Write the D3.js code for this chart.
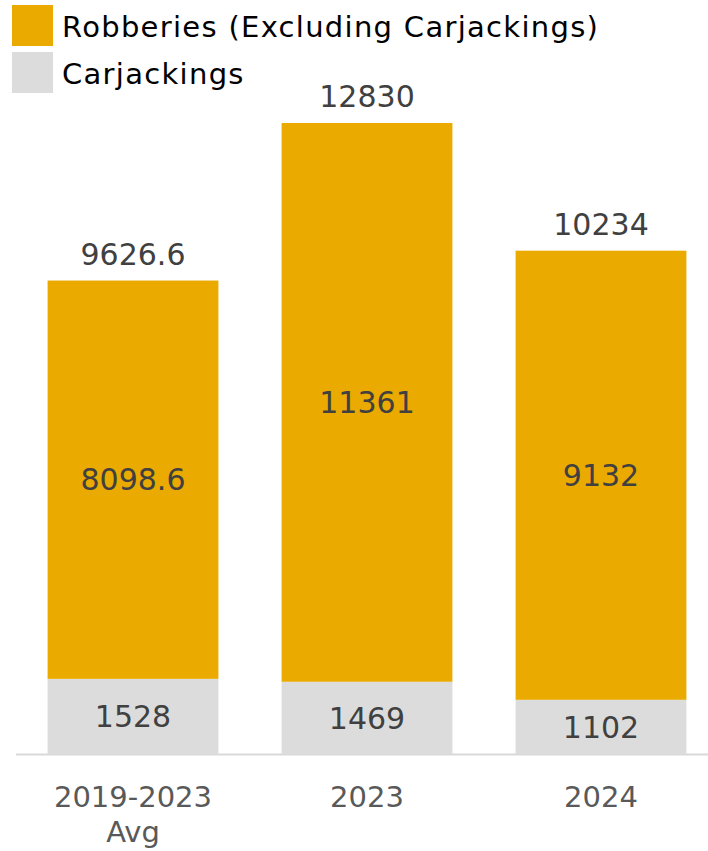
<!DOCTYPE html>
<html>
<head>
<meta charset="utf-8">
<script src="https://cdn.jsdelivr.net/npm/d3@7"></script>
<style>
  body { margin: 0; background: #fff; }
  text { font-family: "DejaVu Sans", sans-serif; }
</style>
</head>
<body>
<div id="chart"></div>
<script>
// chart data
const categories = ["2019-2023 Avg", "2023", "2024"];
const carjackings = [1528, 1469, 1102];
const robberies = [8098.6, 11361, 9132];
const totals = [9626.6, 12830, 10234];
const seriesNames = ["Robberies (Excluding Carjackings)", "Carjackings"];
const seriesColors = ["#eaaa00", "#dcdcdc"];

const width = 708, height = 851;
const baseY = 754;

const svg = d3.select("#chart").append("svg")
    .attr("width", width)
    .attr("height", height);

const x = d3.scaleBand()
    .domain(categories)
    .range([16, 718])
    .paddingInner(0.27)
    .paddingOuter(0.135);

const y = d3.scaleLinear()
    .domain([0, d3.max(totals)])
    .range([baseY, 123]);

// stacked rows: carjackings at the bottom, robberies on top
const rows = categories.map((c, i) => ({ cat: c, carjackings: carjackings[i], robberies: robberies[i] }));
const stack = d3.stack().keys(["carjackings", "robberies"])(rows);
const colorFor = { carjackings: seriesColors[1], robberies: seriesColors[0] };

// baseline
svg.append("line")
    .attr("x1", 16).attr("x2", width)
    .attr("y1", baseY + 0.5).attr("y2", baseY + 0.5)
    .attr("stroke", "#d9d9d9")
    .attr("stroke-width", 2);

stack.forEach(layer => {
    const g = svg.append("g");
    g.selectAll("rect")
        .data(layer)
        .join("rect")
        .attr("x", d => x(d.data.cat))
        .attr("width", x.bandwidth())
        .attr("y", d => y(d[1]))
        .attr("height", d => y(d[0]) - y(d[1]))
        .attr("fill", colorFor[layer.key]);

    g.selectAll("text")
        .data(layer)
        .join("text")
        .attr("x", d => x(d.data.cat) + x.bandwidth() / 2)
        .attr("y", d => (y(d[0]) + y(d[1])) / 2)
        .attr("dy", "0.36em")
        .attr("text-anchor", "middle")
        .attr("font-size", 30)
        .attr("fill", "#404040")
        .text(d => d.data[layer.key]);
});

// totals above the bars
svg.append("g").selectAll("text")
    .data(categories)
    .join("text")
    .attr("x", (c) => x(c) + x.bandwidth() / 2)
    .attr("y", (c, i) => y(totals[i]) - 16)
    .attr("text-anchor", "middle")
    .attr("font-size", 30)
    .attr("fill", "#404040")
    .text((c, i) => totals[i]);

// category labels, the first one wraps onto two lines
const catLines = { "2019-2023 Avg": ["2019-2023", "Avg"] };
const labelG = svg.append("g");
categories.forEach(c => {
    const lines = catLines[c] || [c];
    lines.forEach((l, j) => {
        labelG.append("text")
            .attr("x", x(c) + x.bandwidth() / 2)
            .attr("y", 807 + j * 35)
            .attr("text-anchor", "middle")
            .attr("font-size", 29)
            .attr("fill", "#595959")
            .text(l);
    });
});

// legend
const legend = svg.append("g");
seriesNames.forEach((name, i) => {
    legend.append("rect")
        .attr("x", 12).attr("y", 5 + i * 47)
        .attr("width", 41).attr("height", 41)
        .attr("fill", seriesColors[i]);
    legend.append("text")
        .attr("x", 62).attr("y", 5 + i * 47 + 32)
        .attr("font-size", 29)
        .attr("letter-spacing", 1.3)
        .attr("fill", "#000")
        .text(name);
});
</script>
</body>
</html>
